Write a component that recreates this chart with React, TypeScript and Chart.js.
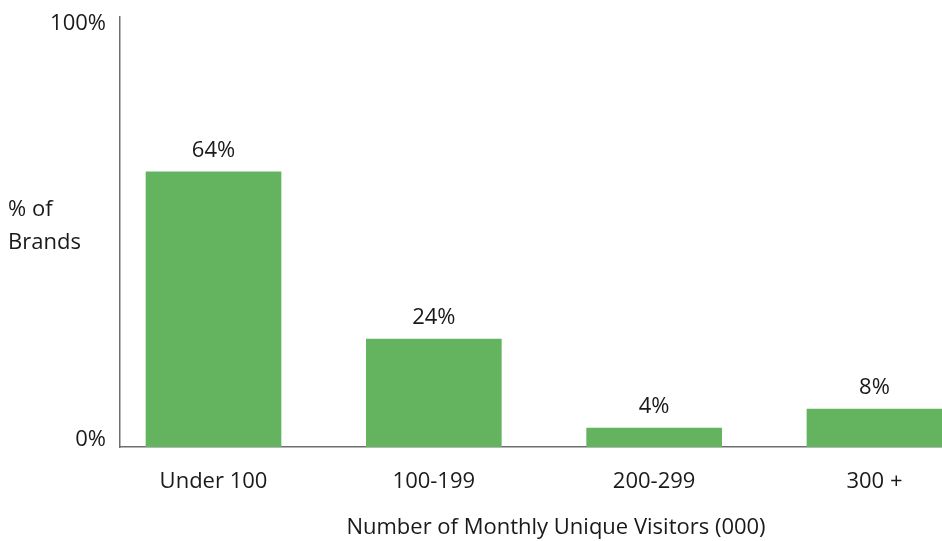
import React, { useEffect, useRef } from "react";
import { Chart, registerables } from "chart.js";

Chart.register(...registerables);

const categories = ["Under 100", "100-199", "200-299", "300 +"];
const barValues = [64, 25.1, 4.4, 8.8];
const valueLabels = ["64%", "24%", "4%", "8%"];
const yTickValues = [0, 100];
const yTickLabels = ["0%", "100%"];
const yTitleLines = ["% of", "Brands"];
const xTitle = "Number of Monthly Unique Visitors (000)";

const FONT_FAMILY = '"Open Sans", sans-serif';
const FONT_SIZE = 22;
const TEXT = "#1a1a1a";
const GREEN = "#64b45f";
const AXIS = "#6e6e6e";

const textPlugin = {
  id: "textPlugin",
  afterDraw(chart: any) {
    const ctx = chart.ctx;
    const area = chart.chartArea;
    ctx.save();
    ctx.font = `${FONT_SIZE}px ${FONT_FAMILY}`;
    ctx.fillStyle = TEXT;

    // value labels above bars
    const meta = chart.getDatasetMeta(0);
    ctx.textAlign = "center";
    ctx.textBaseline = "alphabetic";
    meta.data.forEach((el: any, i: number) => {
      ctx.fillText(valueLabels[i], el.x, el.y - 15);
    });

    // y tick labels
    const ys = chart.scales.y;
    ctx.textAlign = "right";
    ctx.textBaseline = "middle";
    yTickValues.forEach((v, i) => {
      const py = ys.getPixelForValue(v);
      const y = Math.min(Math.max(py, area.top + 7), area.bottom - 7);
      ctx.fillText(yTickLabels[i], area.left - 14, y);
    });

    // y title (horizontal)
    ctx.textAlign = "left";
    ctx.textBaseline = "alphabetic";
    const mid = (area.top + area.bottom) / 2;
    yTitleLines.forEach((line, i) => {
      ctx.fillText(line, 8, mid - 16.5 + i * 33);
    });

    // x title
    ctx.textAlign = "center";
    ctx.fillText(xTitle, 556, 534);
    ctx.restore();
  },
};

export default function App() {
  const ref = useRef<HTMLCanvasElement | null>(null);

  useEffect(() => {
    document.body.style.margin = "0";
    if (!ref.current) return;
    const chart = new Chart(ref.current, {
      type: "bar",
      data: {
        datasets: [
          {
            data: categories.map((_, i) => ({ x: i, y: barValues[i] })),
            backgroundColor: GREEN,
            borderWidth: 0,
            barThickness: 135,
          },
        ],
      },
      options: {
        responsive: false,
        animation: false,
        layout: { padding: { top: 17, left: 0, right: 0, bottom: 0 } },
        plugins: {
          legend: { display: false },
          tooltip: { enabled: false },
        },
        scales: {
          x: {
            type: "linear",
            min: -0.4244,
            max: 3.3065,
            offset: false,
            grid: { display: false, drawTicks: false, offset: false },
            border: { display: true, color: AXIS, width: 1.5 },
            afterBuildTicks: (s: any) => {
              s.ticks = categories.map((_, i) => ({ value: i }));
            },
            afterFit: (s: any) => {
              s.height = 94;
            },
            ticks: {
              callback: (v: any) => categories[v as number] ?? "",
              font: { family: FONT_FAMILY, size: FONT_SIZE },
              color: TEXT,
              padding: 22,
              maxRotation: 0,
              autoSkip: false,
            },
          },
          y: {
            min: 0,
            max: 100,
            grid: { display: false, drawTicks: false },
            border: { display: true, color: AXIS, width: 1.5 },
            ticks: { display: false },
            afterFit: (s: any) => {
              s.width = 120;
            },
          },
        },
      } as any,
      plugins: [textPlugin],
    });
    return () => chart.destroy();
  }, []);

  return (
    <div style={{ position: "absolute", left: 0, top: 0, width: 942, height: 541 }}>
      <canvas ref={ref} width={942} height={541} style={{ display: "block" }} />
    </div>
  );
}
